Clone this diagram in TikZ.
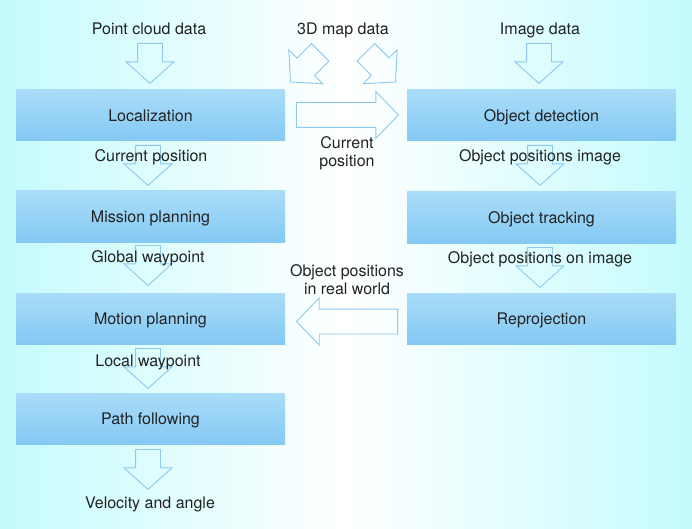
\documentclass[tikz,border=0pt]{standalone}
\usepackage{fontspec}
\setmainfont{TeX Gyre Heros}
\usetikzlibrary{shapes.arrows}
\definecolor{bgc}{HTML}{C4FBFD}
\definecolor{boxtop}{HTML}{A9DCF8}
\definecolor{boxbot}{HTML}{84C9F4}
\definecolor{arrowc}{HTML}{8DC9EE}
\definecolor{txt}{HTML}{222222}
\begin{document}
\begin{tikzpicture}[x=1pt,y=-1pt,
  box/.style={rectangle, minimum width=269pt, minimum height=51pt, inner sep=0pt,
    top color=boxtop, bottom color=boxbot, draw=none,
    font=\fontsize{16}{19}\selectfont, text=txt, text height=11.5pt, text depth=0pt},
  lbl/.style={font=\fontsize{16}{18}\selectfont, text=txt, inner sep=0pt, align=center},
  barrow/.style={single arrow, draw=arrowc, line width=0.9pt, inner xsep=0pt, inner ysep=12pt,
    text height=0pt, text depth=0pt, text width=0pt,
    single arrow tip angle=96, anchor=tail, minimum height=40pt,
    minimum width=47pt, single arrow head extend=11.5pt},
  harrow/.style={barrow, minimum height=102pt, minimum width=46pt,
    single arrow head extend=11pt, single arrow tip angle=92}
]
% background
\path[use as bounding box, left color=bgc, right color=bgc, middle color=white]
  (0,0) rectangle (692,529);

% boxes
\node[box] (loc)  at (150.5,115.5) {Localization};
\node[box] (mis)  at (150.5,216.5) {Mission planning};
\node[box] (mot)  at (150.5,318.5) {Motion planning};
\node[box] (pth)  at (150.5,419)   {Path following};
\node[box] (det)  at (541.5,115.5) {Object detection};
\node[box] (trk)  at (541.5,217.5) {Object tracking};
\node[box] (rep)  at (541.5,318.5) {Reprojection};

% block arrows
\node[barrow, rotate=-90] (a1) at (150,43) {};
\node[barrow, rotate=-90] (a2) at (539,43) {};
\node[barrow, rotate=-135, minimum height=42pt] (a3) at (320.5,52) {};
\node[barrow, rotate=-45, minimum height=42pt] (a4) at (365.5,52) {};
\node[harrow] (a5) at (296,115) {};
\node[harrow, rotate=180, minimum height=101pt] (a6) at (398,321.5) {};
\node[barrow, rotate=-90] (a7) at (148,145) {};
\node[barrow, rotate=-90] (a8) at (148,245) {};
\node[barrow, rotate=-90] (a9) at (148,348) {};
\node[barrow, rotate=-90] (a10) at (148,449) {};
\node[barrow, rotate=-90] (a11) at (540,145) {};
\node[barrow, rotate=-90] (a12) at (540,247) {};

% labels
\node[lbl, anchor=base] (t1) at (149,35) {Point cloud data};
\node[lbl, anchor=base] (t2) at (343,35) {3D map data};
\node[lbl, anchor=base] (t3) at (540,35) {Image data};
\node[lbl, anchor=base] (t4) at (151,162) {Current position};
\node[lbl] (t5) at (347,153) {Current\\position};
\node[lbl, anchor=base] (t6) at (540,162) {Object positions image};
\node[lbl, anchor=base] (t7) at (148,262.5) {Global waypoint};
\node[lbl, anchor=base] (t8) at (540,263) {Object positions on image};
\node[lbl] (t9) at (347,280) {Object positions\\in real world};
\node[lbl, anchor=base] (t10) at (148,366) {Local waypoint};
\node[lbl, anchor=base] (t11) at (150,508) {Velocity and angle};
\end{tikzpicture}
\end{document}
